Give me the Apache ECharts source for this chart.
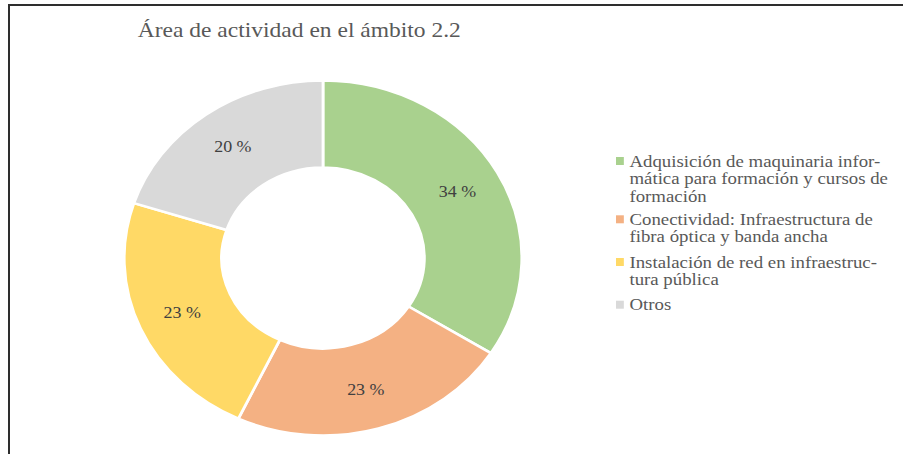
<!DOCTYPE html>
<html>
<head>
<meta charset="utf-8">
<script src="https://cdn.jsdelivr.net/npm/echarts@6/dist/echarts.min.js"></script>
<style>
  html, body { margin: 0; padding: 0; background: #fff; overflow: hidden; }
  #frame {
    position: absolute; left: 8px; top: 4px; right: -4px; bottom: -4px;
    border-top: 2px solid #2e2e2e; border-left: 2px solid #2e2e2e;
  }
  /* the reference is stretched sideways, so the chart is drawn narrower and scaled */
  #chart {
    position: absolute; left: 0; top: 0;
    width: 806px; height: 454px;
    transform: scaleX(1.12); transform-origin: 0 0;
  }
</style>
</head>
<body>
<div id="frame"></div>
<div id="chart"></div>
<script>
const chartTitle = 'Área de actividad en el ámbito 2.2';
const categories = [
  'Adquisición de maquinaria informática para formación y cursos de formación',
  'Conectividad: Infraestructura de fibra óptica y banda ancha',
  'Instalación de red en infraestructura pública',
  'Otros'
];
// legend text as broken in the reference
const legendLabels = [
  'Adquisición de maquinaria infor-\nmática para formación y cursos de\nformación',
  'Conectividad: Infraestructura de\nfibra óptica y banda ancha',
  'Instalación de red en infraestruc-\ntura pública',
  'Otros'
];
const shares = [34, 23, 23, 20];
const colors = ['#A9D18E', '#F4B183', '#FFD966', '#D9D9D9'];

const font = '"Liberation Serif", "DejaVu Serif", serif';
const lineH = 17.5;
// icon centre (y) of each legend entry
const legendY = [161, 219.3, 262, 304.7];

const myChart = echarts.init(document.getElementById('chart'), null, {renderer: 'svg'});

// legend text is centred on the icon, so blank lines in front put the icon on the first line
const legends = categories.map(function (name, i) {
  const lines = legendLabels[i].split('\n').length;
  const text = '\n'.repeat(lines - 1) + legendLabels[i];
  return {
    orient: 'vertical',
    left: 550,
    top: legendY[i] - (2 * lines - 1) * lineH / 2,
    padding: 0,
    itemWidth: 7,
    itemHeight: 8,
    icon: 'rect',
    selectedMode: false,
    itemStyle: {borderWidth: 0},
    data: [name],
    formatter: function () { return text; },
    textStyle: {
      fontFamily: font,
      fontSize: 16.8,
      color: '#595959',
      lineHeight: lineH
    }
  };
});

const option = {
  animation: false,
  color: colors,
  title: {
    text: chartTitle,
    left: 123,
    top: 19,
    padding: 0,
    textStyle: {
      fontFamily: font,
      fontSize: 21,
      fontWeight: 'normal',
      color: '#595959'
    }
  },
  legend: legends,
  series: [
    {
      type: 'pie',
      center: [288.4, 258],
      radius: [90.5, 177.5],
      startAngle: 90,
      clockwise: true,
      avoidLabelOverlap: false,
      itemStyle: {
        borderColor: '#fff',
        borderWidth: 2.5
      },
      label: {
        show: true,
        position: 'inside',
        formatter: '{c} %',
        fontFamily: font,
        fontSize: 16,
        color: '#404040'
      },
      labelLine: {show: false},
      emphasis: {scale: false},
      data: categories.map(function (name, i) {
        return {name: name, value: shares[i]};
      })
    }
  ]
};

myChart.setOption(option);
</script>
</body>
</html>
